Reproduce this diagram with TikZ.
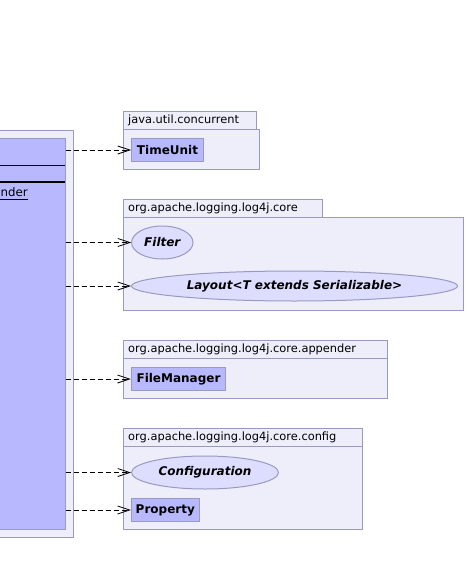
\documentclass[tikz,border=0pt]{standalone}
\usepackage{fontspec}
\setmainfont{DejaVu Sans}
\usetikzlibrary{arrows.meta,shapes.geometric}
\definecolor{pkgfill}{HTML}{EEEEFA}
\definecolor{clsfill}{HTML}{B8B8FF}
\definecolor{ifcfill}{HTML}{DDDDFF}
\definecolor{edgecol}{HTML}{9A9AC0}
\tikzset{
  pkgbox/.style={draw=edgecol, fill=pkgfill, line width=1pt},
  pkglabel/.style={anchor=west, inner sep=0pt, font=\fontsize{11.4}{13}\selectfont},
  clsbox/.style={draw=edgecol, fill=clsfill, line width=1pt, inner sep=0pt,
    font=\fontsize{12}{14}\selectfont\bfseries},
  ifcbox/.style={ellipse, draw=edgecol, fill=ifcfill, line width=1pt, inner sep=0pt,
    font=\fontsize{12}{14}\selectfont\bfseries\itshape},
  dep/.style={dash pattern=on 5pt off 3pt, line width=0.8pt,
    -{Straight Barb[length=12pt,width=8pt,line width=0.8pt]}},
}
\begin{document}
\begin{tikzpicture}[x=1pt,y=-1pt]
\useasboundingbox (0,0) rectangle (467,575);
\clip (0,0) rectangle (467,575);
% left package and class
\draw[pkgbox] (-10,130) rectangle (73,537);
\node[clsbox, minimum width=75pt, minimum height=391pt] (main) at (27.5,333.5) {};
\draw[line width=0.9pt] (-10,165) -- (65,165);
\draw[line width=1.8pt] (-10,182) -- (65,182);
\node[anchor=base west, inner sep=0pt, font=\fontsize{11.8}{13}\selectfont] (nder) at (0.5,196) {nder};
\draw[line width=0.9pt] (0,199) -- (nder.east |- 0,199);
% java.util.concurrent
\draw[pkgbox] (123.5,129.5) rectangle (259.5,169.5);
\draw[pkgbox] (123.5,111.5) rectangle (256.5,129.5);
\node[pkglabel] (p1) at (128,120.5) {java.util.concurrent};
\node[clsbox, minimum width=72pt, minimum height=23.5pt] (tu) at (167.5,150) {TimeUnit};
% org.apache.logging.log4j.core
\draw[pkgbox] (123.5,217) rectangle (463.5,310);
\draw[pkgbox] (123.5,199.5) rectangle (322.5,217);
\node[pkglabel] (p2) at (128,208.5) {org.apache.logging.log4j.core};
\node[ifcbox, minimum width=61.5pt, minimum height=33pt] (filter) at (162.3,242.5) {Filter};
\node[ifcbox, minimum width=326pt, minimum height=30pt] (layout) at (294.5,286) {Layout<T extends Serializable>};
% appender
\draw[pkgbox] (123.5,358.5) rectangle (387.5,398.5);
\draw[pkgbox] (123.5,340.5) rectangle (387.5,358.5);
\node[pkglabel] (p3) at (128,349.5) {org.apache.logging.log4j.core.appender};
\node[clsbox, minimum width=94.5pt, minimum height=23.5pt] (fm) at (178.5,379) {FileManager};
% config
\draw[pkgbox] (123.5,446.5) rectangle (362.5,529.5);
\draw[pkgbox] (123.5,428.5) rectangle (362.5,446.5);
\node[pkglabel] (p4) at (128,437.5) {org.apache.logging.log4j.core.config};
\node[ifcbox, minimum width=147pt, minimum height=33pt] (conf) at (205,472.5) {Configuration};
\node[clsbox, minimum width=68pt, minimum height=23.5pt] (prop) at (165.3,510) {Property};
% dependencies
\foreach \t in {tu,filter,layout,fm,conf,prop}
  \draw[dep] (main.east |- \t.west) -- (\t.west);
\end{tikzpicture}
\end{document}
